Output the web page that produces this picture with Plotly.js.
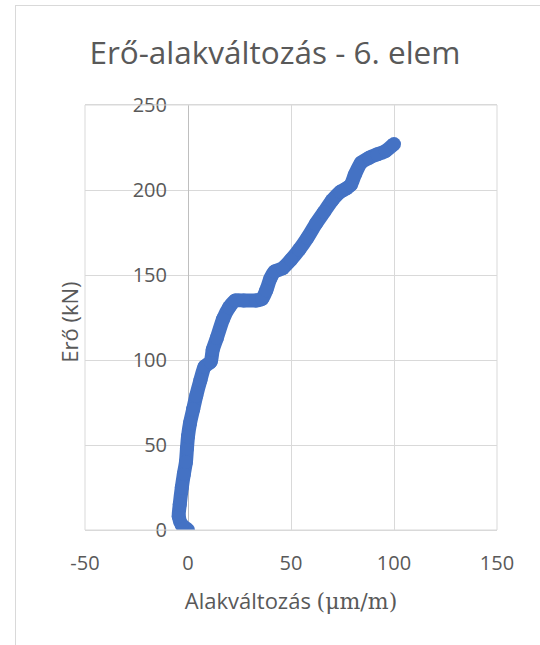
<!DOCTYPE html>
<html>
<head>
<meta charset="utf-8">
<script src="https://cdn.plot.ly/plotly-3.0.1.min.js"></script>
<style>
  html, body { margin: 0; padding: 0; background: #ffffff; }
  #chart { width: 540px; height: 645px; position: absolute; left: 0; top: 0; }
  #frame { position: absolute; left: 15px; top: 5px; width: 700px; height: 800px;
           border: 1px solid #d9d9d9; pointer-events: none; }
</style>
</head>
<body>
<div id="chart"></div>
<div id="frame"></div>
<script>
// Strain (µm/m) and force (kN)
const strain = [0, -3, -4.5, -4, -3, -2, -1, -0.5, 0, 1, 2.5, 4, 6, 8, 11, 12, 14, 17, 20, 23, 27, 33, 36, 38, 40, 42, 46, 50, 54, 58, 62, 66, 70, 74, 77, 79, 81, 84, 88, 92, 96, 100];
const force  = [0, 3, 8, 15, 25, 33, 40, 48, 55, 63, 71, 79, 88, 96, 99, 106, 113, 124, 131, 135, 135, 135, 136, 141, 148, 152, 154, 159, 165, 172, 180, 187, 194, 199, 201, 203, 209, 216, 219, 221, 223, 227];

const xTicks = [-50, 0, 50, 100, 150];
const yTicks = [0, 50, 100, 150, 200, 250];

const chartTitle = 'Erő-alakváltozás - 6. elem';
const xTitle = 'Alakváltozás <span style="font-family:\'DejaVu Serif\', \'Liberation Serif\', serif">(μm/m)</span>';
const yTitle = 'Erő (kN)';

const txt = '#595959';
const grid = '#d9d9d9';
const baseFont = 'Open Sans, Lato, sans-serif';

const trace = {
  x: strain, y: force,
  type: 'scatter', mode: 'lines+markers',
  line: { color: '#4472c4', width: 14, shape: 'spline', smoothing: 0.6 },
  marker: { color: '#4472c4', size: 14 },
  hoverinfo: 'skip'
};

const layout = {
  width: 540, height: 645,
  margin: { l: 85, r: 43, t: 105, b: 115 },
  paper_bgcolor: '#ffffff', plot_bgcolor: '#ffffff',
  showlegend: false,
  font: { family: baseFont, color: txt },
  title: {
    text: chartTitle,
    font: { family: baseFont, size: 31.5, color: txt },
    x: 0.461, xref: 'paper', xanchor: 'center',
    y: 50, yref: 'container', yanchor: 'middle'
  },
  xaxis: {
    range: [-50, 150], tickvals: xTicks, ticktext: xTicks.map(String),
    showgrid: true, gridcolor: grid, gridwidth: 1,
    zeroline: true, zerolinecolor: '#bfbfbf', zerolinewidth: 1,
    showline: true, linecolor: grid, mirror: true,
    ticks: '', ticklabelstandoff: 15,
    tickfont: { family: baseFont, size: 20, color: txt },
    title: { text: xTitle, font: { family: baseFont, size: 22, color: txt }, standoff: 18 },
    fixedrange: true
  },
  yaxis: {
    range: [0, 250], tickvals: yTicks, ticktext: yTicks.map(String),
    anchor: 'free', position: 0.25,
    showgrid: true, gridcolor: grid, gridwidth: 1,
    zeroline: false, showline: false,
    ticks: '', ticklabelstandoff: 21,
    tickfont: { family: baseFont, size: 20, color: txt },
    fixedrange: true
  },
  shapes: [{
    type: 'rect', xref: 'paper', yref: 'paper', x0: 0, x1: 1, y0: 0, y1: 1,
    line: { color: grid, width: 1 }, fillcolor: 'rgba(0,0,0,0)', layer: 'above'
  }],
  annotations: [{
    text: yTitle, textangle: -90,
    xref: 'paper', yref: 'paper', x: -0.039, y: 0.49,
    xanchor: 'center', yanchor: 'middle', showarrow: false,
    font: { family: baseFont, size: 22, color: txt }
  }]
};

Plotly.newPlot('chart', [trace], layout, { staticPlot: true, displayModeBar: false });
</script>
</body>
</html>
